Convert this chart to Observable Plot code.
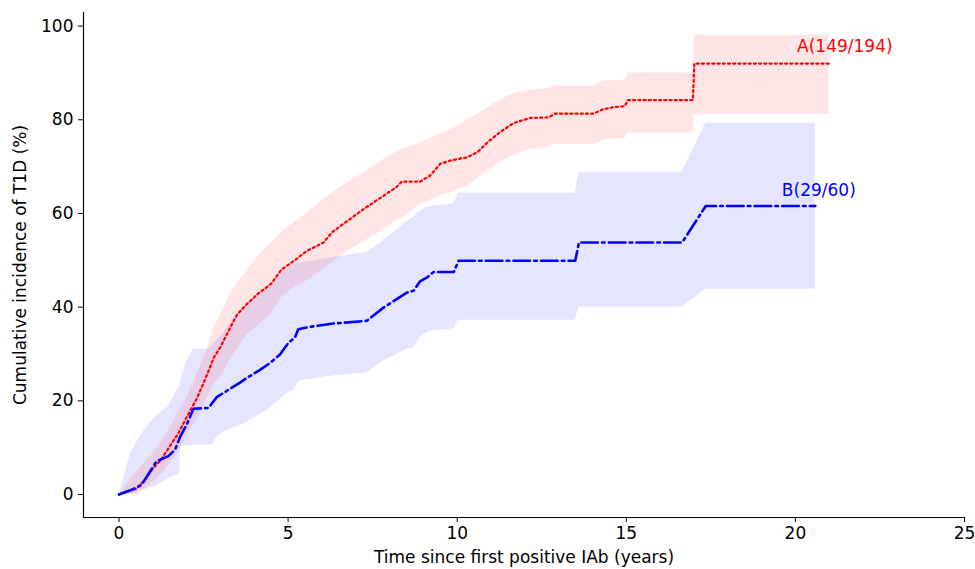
<!DOCTYPE html>
<html><head><meta charset="utf-8">
<script src="https://cdn.jsdelivr.net/npm/d3@7"></script>
<script src="https://cdn.jsdelivr.net/npm/@observablehq/plot@0.6"></script>
<style>body{margin:0;background:#fff;}</style>
</head><body><div id="chart"></div>
<script>
// Group A (red)
const timeA = [0, 0.5, 0.75, 1.0, 1.25, 1.5, 1.75, 2.0, 2.3, 2.6, 2.8, 3.0, 3.3, 3.5, 3.8, 4.1, 4.5, 4.8, 5.25, 5.55, 6.05, 6.3, 6.6, 6.9, 7.25, 7.7, 8.2, 8.36, 8.9, 9.2, 9.5, 9.8, 10.3, 10.6, 10.9, 11.27, 11.67, 12.16, 12.7, 12.88, 14.03, 14.3, 14.62, 14.95, 15.05, 16.97, 17.01, 21.0];
const estA  = [0, 1.2, 3.0, 5.5, 7.5, 10.3, 13.0, 16.5, 20.5, 25.5, 29.2, 31.5, 35.8, 38.5, 40.8, 42.8, 45.0, 48.0, 50.3, 52.0, 53.8, 56.0, 57.6, 59.2, 61.0, 63.2, 65.6, 66.8, 66.8, 68.1, 70.6, 71.3, 72.0, 73.1, 75.2, 77.4, 79.3, 80.4, 80.5, 81.3, 81.3, 82.2, 82.7, 82.9, 84.2, 84.2, 92.0, 92.0];
const loA   = [0, 0.3, 1.2, 2.5, 4.3, 6.5, 9.0, 12.5, 16.0, 20.5, 23.5, 25.0, 29.0, 31.0, 34.2, 36.0, 38.6, 42.0, 44.5, 45.6, 48.2, 49.5, 51.1, 52.5, 54.0, 56.0, 58.4, 59.0, 61.8, 62.8, 63.8, 64.5, 65.7, 67.5, 69.0, 71.0, 72.4, 73.7, 74.1, 74.7, 74.7, 75.6, 75.9, 75.9, 77.1, 77.1, 81.1, 81.1];
const hiA   = [0, 4.7, 6.8, 8.7, 11.2, 14.0, 17.5, 20.6, 25.6, 30.8, 35.6, 38.5, 43.0, 45.0, 48.0, 50.7, 53.7, 56.0, 58.5, 60.0, 63.1, 64.3, 65.8, 67.2, 68.8, 71.0, 73.1, 73.6, 75.0, 76.0, 77.0, 77.9, 79.9, 81.2, 82.5, 84.2, 85.6, 86.3, 86.6, 87.2, 87.2, 88.2, 88.4, 88.4, 90.0, 90.0, 98.1, 98.1];

// Group B (blue)
const timeB = [0, 0.33, 0.55, 0.67, 0.97, 1.11, 1.46, 1.66, 1.75, 1.8, 1.82, 2.0, 2.2, 2.65, 2.75, 2.89, 3.09, 3.6, 3.78, 4.17, 4.47, 4.76, 5.01, 5.2, 5.3, 5.65, 6.34, 7.33, 7.82, 8.51, 8.71, 8.9, 9.1, 9.3, 9.9, 10.04, 13.49, 13.6, 16.65, 17.35, 20.59];
const estB  = [0, 0.9, 1.6, 2.1, 5.5, 7.1, 8.2, 9.6, 11.3, 12.2, 12.5, 14.9, 18.3, 18.5, 19.5, 20.8, 21.7, 24.0, 24.9, 26.6, 28.1, 29.9, 32.4, 33.5, 35.3, 35.8, 36.5, 37.1, 39.9, 43.1, 43.5, 45.5, 46.3, 47.5, 47.5, 49.9, 49.9, 53.8, 53.8, 61.6, 61.6];
const loB   = [0, 0, 0, 0.8, 1.5, 1.8, 3.4, 4.0, 4.3, 4.6, 10.3, 10.4, 10.5, 10.6, 10.6, 12.3, 13.3, 14.9, 15.4, 17.1, 18.5, 20.3, 21.8, 22.4, 24.2, 24.6, 25.3, 26.0, 28.5, 31.0, 31.3, 33.5, 34.5, 35.0, 35.3, 37.2, 37.2, 40.0, 40.0, 43.8, 43.8];
const hiB   = [0, 8.5, 11.5, 13.0, 15.8, 16.8, 18.8, 21.5, 22.5, 23.5, 24.0, 28.5, 31.0, 31.0, 31.8, 33.0, 34.5, 39.5, 40.6, 43.0, 45.0, 47.0, 48.5, 49.2, 49.4, 49.8, 50.6, 51.7, 54.2, 58.3, 59.2, 60.5, 61.3, 61.6, 62.0, 64.3, 64.3, 68.8, 68.8, 79.3, 79.3];

const groupLabels = ["A(149/194)", "B(29/60)"];
const groupColors = ["red", "blue"];
const labelX = [20.05, 19.6];
const labelY = [94.4, 63.8];

const xTicks = [0, 5, 10, 15, 20, 25];
const yTicks = [0, 20, 40, 60, 80, 100];
const xDomain = [-1.05, 25];
const yDomain = [-4.9, 102.9];
const xTitle = "Time since first positive IAb (years)";
const yTitle = "Cumulative incidence of T1D (%)";

const A = timeA.map((t, i) => ({t, est: estA[i], lo: loA[i], hi: hiA[i]}));
const B = timeB.map((t, i) => ({t, est: estB[i], lo: loB[i], hi: hiB[i]}));
const L = groupLabels.map((text, i) => ({text, x: labelX[i], y: labelY[i], c: groupColors[i]}));

const chart = Plot.plot({
  width: 975, height: 569,
  marginLeft: 83, marginRight: 11, marginTop: 12, marginBottom: 52,
  style: {fontFamily: "DejaVu Sans", fontSize: "17px", color: "black", background: "white"},
  x: {domain: xDomain},
  y: {domain: yDomain},
  marks: [
    Plot.areaY(B, {x: "t", y1: "lo", y2: "hi", fill: "blue", fillOpacity: 0.1}),
    Plot.areaY(A, {x: "t", y1: "lo", y2: "hi", fill: "red", fillOpacity: 0.1}),
    Plot.line(A, {x: "t", y: "est", stroke: "red", strokeWidth: 2.2, strokeDasharray: "2.1,3.1"}),
    Plot.line(B, {x: "t", y: "est", stroke: "blue", strokeWidth: 2.6, strokeDasharray: "16.6,4.2,2.6,4.2"}),
    Plot.text(L, {x: "x", y: "y", text: "text", fill: "c", textAnchor: "start", lineAnchor: "bottom", fontSize: 17}),
    Plot.axisX({ticks: xTicks, tickSize: 5, tickPadding: 4, fontSize: 17, label: xTitle, labelAnchor: "center", labelArrow: "none", labelOffset: 45}),
    Plot.axisY({ticks: yTicks, tickSize: 5, tickPadding: 5, fontSize: 17, label: yTitle, labelAnchor: "center", labelArrow: "none", labelOffset: 70}),
    Plot.ruleX([xDomain[0]], {stroke: "black", strokeWidth: 1.2}),
    Plot.ruleY([yDomain[0]], {stroke: "black", strokeWidth: 1.2})
  ]
});
document.getElementById("chart").appendChild(chart);
</script>
</body></html>
